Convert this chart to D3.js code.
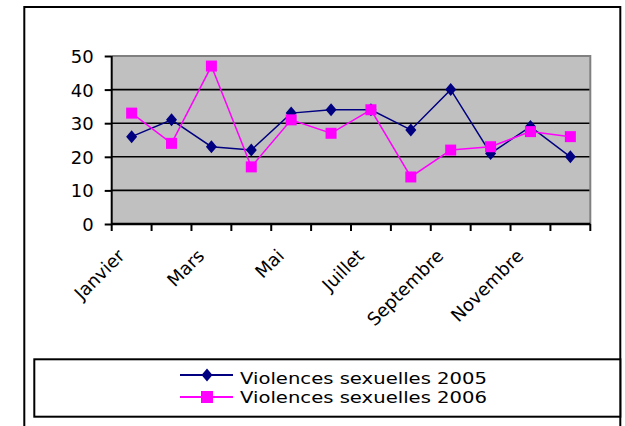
<!DOCTYPE html>
<html>
<head>
<meta charset="utf-8">
<script src="https://cdn.jsdelivr.net/npm/d3@7"></script>
<style>
  html, body { margin: 0; padding: 0; background: #fff; }
  svg { display: block; }
  text { font-family: "DejaVu Sans", Arial, sans-serif; fill: #000; }
</style>
</head>
<body>
<svg id="chart" width="625" height="426"></svg>
<script>
const months = ["Janvier", "Février", "Mars", "Avril", "Mai", "Juin", "Juillet", "Août", "Septembre", "Octobre", "Novembre", "Décembre"];
const values2005 = [26, 31, 23, 22, 33, 34, 34, 28, 40, 21, 29, 20];
const values2006 = [33, 24, 47, 17, 31, 27, 34, 14, 22, 23, 27.5, 26];
const seriesNames = ["Violences sexuelles 2005", "Violences sexuelles 2006"];
const yTicks = [0, 10, 20, 30, 40, 50];

const svg = d3.select("#chart");
const plot = { left: 111.7, right: 590.3, top: 56, bottom: 224 };

const x = d3.scaleBand().domain(months).range([plot.left, plot.right]).padding(0);
const y = d3.scaleLinear().domain([0, 50]).range([plot.bottom, plot.top]);
const cx = m => x(m) + x.bandwidth() / 2;

// outer frame
svg.append("rect").attr("x", 24.3).attr("y", 7).attr("width", 620.3 - 24.3).attr("height", 450)
  .attr("fill", "#fff").attr("stroke", "#000").attr("stroke-width", 2);

// plot background
svg.append("rect").attr("x", plot.left).attr("y", plot.top)
  .attr("width", plot.right - plot.left).attr("height", plot.bottom - plot.top)
  .attr("fill", "#c0c0c0");

// gridlines
svg.append("g").selectAll("line").data(yTicks.filter(t => t > 0 && t < 50)).join("line")
  .attr("x1", plot.left).attr("x2", plot.right)
  .attr("y1", d => y(d)).attr("y2", d => y(d))
  .attr("stroke", "#000").attr("stroke-width", 1.6);

// gray top/right border
svg.append("path")
  .attr("d", `M${plot.left},${plot.top}H${plot.right}V${plot.bottom}`)
  .attr("fill", "none").attr("stroke", "#808080").attr("stroke-width", 2);

// y axis
const yAxis = d3.axisLeft(y).tickValues(yTicks).tickSize(7).tickPadding(11);
const gy = svg.append("g").attr("transform", `translate(${plot.left},0)`).call(yAxis);
gy.select(".domain").attr("stroke", "#000").attr("stroke-width", 2).attr("d", `M0,${plot.top}V${plot.bottom}`);
gy.selectAll(".tick line").attr("stroke", "#000").attr("stroke-width", 2);
gy.selectAll(".tick text").attr("font-size", 18).attr("font-family", "DejaVu Sans, Arial, sans-serif")
  .attr("fill", "#000").attr("dy", "0.36em");

// x axis
const xAxis = d3.axisBottom(x).tickSize(0).tickFormat("");
const gx = svg.append("g").attr("transform", `translate(0,${plot.bottom})`).call(xAxis);
gx.select(".domain").attr("stroke", "#000").attr("stroke-width", 2.5).attr("d", `M${plot.left},0H${plot.right}`);
gx.selectAll(".tick").remove();
const bounds = months.map(m => x(m)).concat([x(months[months.length - 1]) + x.bandwidth()]);
gx.selectAll("line.tk").data(bounds).join("line").attr("class", "tk")
  .attr("x1", d => d).attr("x2", d => d).attr("y1", 0).attr("y2", 7)
  .attr("stroke", "#000").attr("stroke-width", 2);

// x labels (every other month)
svg.append("g").selectAll("text").data(months.filter((m, i) => i % 2 === 0)).join("text")
  .attr("transform", m => `translate(${cx(m) - 6},${plot.bottom + 33}) rotate(-45)`)
  .attr("text-anchor", "end").attr("font-size", 18)
  .text(m => m);

// series
const navy = "#000080", magenta = "#ff00ff";
const diamond = "M0,-6.5L5.5,0L0,6.5L-5.5,0Z";
const line = d3.line().x((d, i) => cx(months[i])).y(d => y(d));

svg.append("path").datum(values2005).attr("d", line)
  .attr("fill", "none").attr("stroke", navy).attr("stroke-width", 1.5);
svg.append("g").selectAll("path").data(values2005).join("path")
  .attr("d", diamond).attr("fill", navy)
  .attr("transform", (d, i) => `translate(${cx(months[i])},${y(d)})`);

svg.append("path").datum(values2006).attr("d", line)
  .attr("fill", "none").attr("stroke", magenta).attr("stroke-width", 1.5);
svg.append("g").selectAll("rect").data(values2006).join("rect")
  .attr("x", (d, i) => cx(months[i]) - 5.5).attr("y", d => y(d) - 5.5)
  .attr("width", 11).attr("height", 11).attr("fill", magenta);

// legend
svg.append("rect").attr("x", 34.3).attr("y", 359.3).attr("width", 620.3 - 34.3).attr("height", 416.7 - 359.3)
  .attr("fill", "#fff").attr("stroke", "#000").attr("stroke-width", 2);
const leg = svg.append("g");
const rows = [{ name: seriesNames[0], color: navy, y: 375, base: 384, shape: "d" },
              { name: seriesNames[1], color: magenta, y: 397, base: 402.5, shape: "s" }];
rows.forEach(r => {
  leg.append("line").attr("x1", 180).attr("x2", 233).attr("y1", r.y).attr("y2", r.y)
    .attr("stroke", r.color).attr("stroke-width", 2);
  if (r.shape === "d") {
    leg.append("path").attr("d", diamond).attr("fill", r.color).attr("transform", `translate(207,${r.y})`);
  } else {
    leg.append("rect").attr("x", 201).attr("y", r.y - 6).attr("width", 12).attr("height", 12).attr("fill", r.color);
  }
  leg.append("text").attr("x", 240).attr("y", r.base).attr("font-size", 15.5)
    .attr("textLength", 247).attr("lengthAdjust", "spacingAndGlyphs").text(r.name);
});
</script>
</body>
</html>
